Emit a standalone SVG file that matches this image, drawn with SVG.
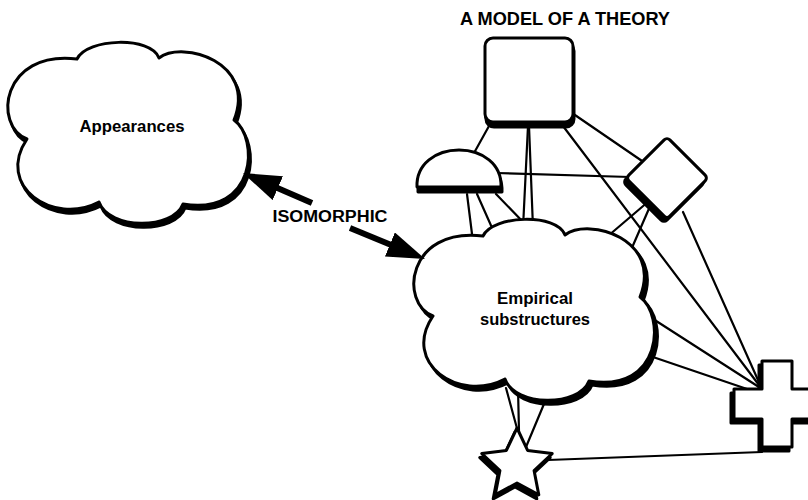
<svg xmlns="http://www.w3.org/2000/svg" width="808" height="500" viewBox="0 0 808 500">
  <defs>
    <style>
      .outline{fill:#fff;stroke:#000;stroke-width:3;stroke-linejoin:round}
      .shadow{fill:#000;stroke:#000;stroke-width:3;stroke-linejoin:round}
      .link{stroke:#000;stroke-width:2.2;fill:none;stroke-linecap:round}
      .arrow{stroke:#000;stroke-width:6;fill:none}
      .label{font-family:"Liberation Sans",Arial,sans-serif;font-weight:bold;fill:#000;text-anchor:middle}
    </style>
    <!-- cloud outline, local box about 0..242 x -2..176 -->
    <path id="cloud" d="M22,93 C-12,80 -4,4 72,13 C82,-8 146,-10 154,12 C178,-6 252,16 229,74 C254,92 252,170 178,158 C168,184 104,184 94,156 C48,180 -10,140 22,93 Z"/>
    <marker id="head" markerUnits="userSpaceOnUse" markerWidth="38" markerHeight="26" refX="8" refY="13" orient="auto">
      <path d="M0,0 L38,13 L0,26 Z" fill="#000"/>
    </marker>
  </defs>

  <rect width="808" height="500" fill="#fff"/>

  <!-- title -->
  <text class="label" x="565" y="25" font-size="18" textLength="210" lengthAdjust="spacingAndGlyphs">A MODEL OF A THEORY</text>

  <!-- connectors -->
  <g id="connectors">
    <line class="link" x1="489" y1="126" x2="474" y2="153"/>
    <line class="link" x1="528" y1="126" x2="523" y2="228"/>
    <line class="link" x1="529" y1="126" x2="533" y2="228"/>
    <line class="link" x1="572" y1="113" x2="645" y2="163"/>
    <line class="link" x1="563" y1="126" x2="762" y2="389"/>
    <line class="link" x1="496" y1="173" x2="630" y2="177"/>
    <line class="link" x1="467" y1="194" x2="473" y2="242"/>
    <line class="link" x1="477" y1="194" x2="493" y2="230"/>
    <line class="link" x1="496" y1="194" x2="526" y2="225"/>
    <line class="link" x1="608" y1="236" x2="649" y2="201"/>
    <line class="link" x1="631" y1="250" x2="651" y2="204"/>
    <line class="link" x1="683" y1="212" x2="762" y2="389"/>
    <line class="link" x1="650" y1="317" x2="762" y2="389"/>
    <line class="link" x1="650" y1="356" x2="750" y2="390"/>
    <line class="link" x1="506" y1="388" x2="518" y2="432"/>
    <line class="link" x1="518" y1="388" x2="519" y2="432"/>
    <line class="link" x1="549" y1="392" x2="526" y2="447"/>
    <line class="link" x1="548" y1="460" x2="762" y2="452"/>
  </g>

  <!-- Appearances cloud -->
  <g id="appearances">
    <use href="#cloud" class="shadow" transform="translate(7,50)"/>
    <use href="#cloud" class="outline" transform="translate(5,46)"/>
    <text class="label" x="132" y="132" font-size="16" textLength="105" lengthAdjust="spacingAndGlyphs">Appearances</text>
  </g>

  <!-- Empirical substructures cloud -->
  <g id="empirical">
    <use href="#cloud" class="shadow" transform="translate(414,227)"/>
    <use href="#cloud" class="outline" transform="translate(411,223)"/>
    <text class="label" x="535" y="304" font-size="16" textLength="76" lengthAdjust="spacingAndGlyphs">Empirical</text>
    <text class="label" x="535" y="325" font-size="16" textLength="110" lengthAdjust="spacingAndGlyphs">substructures</text>
  </g>

  <!-- rounded square -->
  <g id="square">
    <rect class="shadow" x="486" y="43" width="88" height="84" rx="8"/>
    <rect class="outline" x="485" y="38" width="88" height="84" rx="8"/>
  </g>

  <!-- half dome -->
  <g id="dome">
    <path class="shadow" transform="translate(1,5)" d="M417,187 C416,164 436,150 459,150 C482,150 502,164 501,187 Z"/>
    <path class="outline" d="M417,187 C416,164 436,150 459,150 C482,150 502,164 501,187 Z"/>
  </g>

  <!-- diamond -->
  <g id="diamond">
    <rect class="shadow" x="-29" y="-29" width="58" height="58" rx="4" transform="translate(664,182) rotate(45)"/>
    <rect class="outline" x="-29" y="-29" width="58" height="58" rx="4" transform="translate(667,178) rotate(45)"/>
  </g>

  <!-- cross -->
  <g id="cross">
    <path class="shadow" transform="translate(-3,4)" d="M762,361 H792 V389 H820 V419 H792 V447 H762 V419 H734 V389 H762 Z"/>
    <path class="outline" d="M762,361 H792 V389 H820 V419 H792 V447 H762 V419 H734 V389 H762 Z"/>
  </g>

  <!-- star -->
  <g id="star">
    <polygon class="shadow" transform="translate(-2,4)" points="517,428 527.6,450.4 552.2,453.6 534.1,470.6 538.8,494.9 517,483 495.2,494.9 499.9,470.6 481.8,453.6 506.4,450.4"/>
    <polygon class="outline" points="517,428 527.6,450.4 552.2,453.6 534.1,470.6 538.8,494.9 517,483 495.2,494.9 499.9,470.6 481.8,453.6 506.4,450.4"/>
  </g>

  <!-- isomorphic relation -->
  <g id="isomorphic">
    <line class="arrow" x1="312" y1="203" x2="270.5" y2="185" marker-end="url(#head)"/>
    <line class="arrow" x1="350" y1="228" x2="397.3" y2="247.5" marker-end="url(#head)"/>
    <text class="label" x="330" y="222" font-size="16" textLength="115" lengthAdjust="spacingAndGlyphs">ISOMORPHIC</text>
  </g>
</svg>
